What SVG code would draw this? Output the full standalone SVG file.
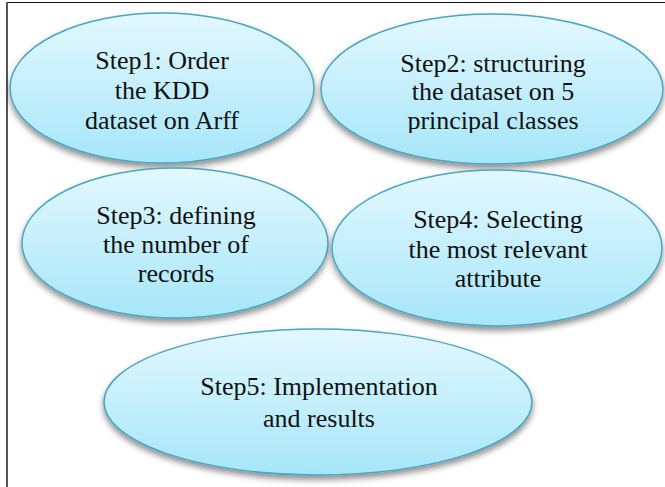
<svg xmlns="http://www.w3.org/2000/svg" width="665" height="487" viewBox="0 0 665 487">
<defs>
<linearGradient id="g" x1="0" y1="0" x2="0" y2="1">
<stop offset="0" stop-color="#e3f8fe"/>
<stop offset="1" stop-color="#a6e6f9"/>
</linearGradient>
<filter id="sh" x="-10%" y="-10%" width="120%" height="130%">
<feGaussianBlur in="SourceAlpha" stdDeviation="3"/>
<feOffset dx="0" dy="4" result="b"/>
<feComponentTransfer><feFuncA type="linear" slope="0.45"/></feComponentTransfer>
<feMerge><feMergeNode/><feMergeNode in="SourceGraphic"/></feMerge>
</filter>
<clipPath id="c2"><rect x="300" y="0" width="365" height="133"/></clipPath>
</defs>
<style>
.n{fill:url(#g);stroke:#4aa5c0;stroke-width:1.5;filter:url(#sh)}
.t{font-size:26px;fill:#111;text-anchor:middle}
</style>
<rect width="665" height="487" fill="#fff"/>
<line x1="6" y1="2.5" x2="665" y2="2.5" stroke="#111" stroke-width="1.2"/>
<line x1="7" y1="2" x2="7" y2="487" stroke="#555" stroke-width="2"/>
<g id="connectors"/>
<g font-family="Liberation Serif, DejaVu Serif, serif">
<g id="step1">
<ellipse class="n" cx="162" cy="88" rx="152" ry="75"/>
<text class="t" x="162" y="69">Step1: Order</text>
<text class="t" x="162" y="99">the KDD</text>
<text class="t" x="162" y="129">dataset on Arff</text>
</g>
<g id="step2">
<ellipse class="n" cx="492" cy="89" rx="171" ry="75"/>
<text class="t" x="493" y="72">Step2: structuring</text>
<text class="t" x="493" y="100">the dataset on 5</text>
<text class="t" x="493" y="129" clip-path="url(#c2)">principal classes</text>
</g>
<g id="step3">
<ellipse class="n" cx="175" cy="243" rx="153" ry="75"/>
<text class="t" x="176" y="224">Step3: defining</text>
<text class="t" x="176" y="253">the number of</text>
<text class="t" x="176" y="282">records</text>
</g>
<g id="step4">
<ellipse class="n" cx="497" cy="248" rx="165" ry="78"/>
<text class="t" x="498" y="228">Step4: Selecting</text>
<text class="t" x="498" y="258">the most relevant</text>
<text class="t" x="498" y="287">attribute</text>
</g>
<g id="step5">
<ellipse class="n" cx="318" cy="402" rx="214" ry="73"/>
<text class="t" x="319" y="395">Step5: Implementation</text>
<text class="t" x="319" y="427">and results</text>
</g>
</g>
</svg>
